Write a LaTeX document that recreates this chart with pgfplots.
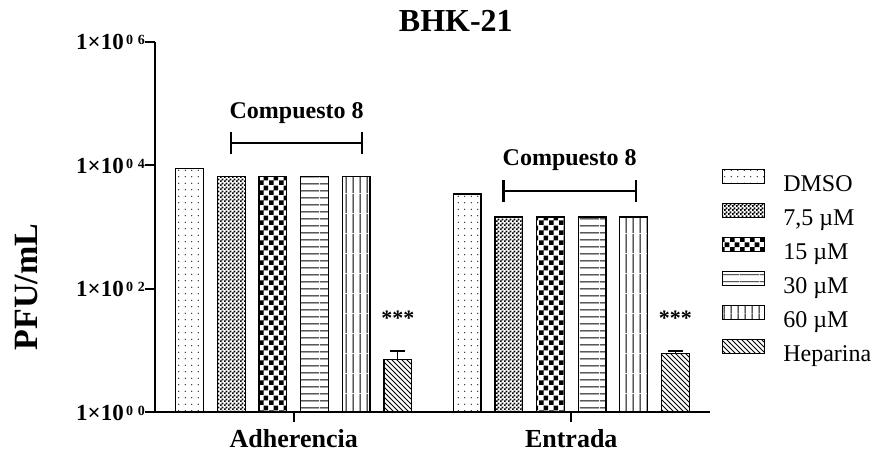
\documentclass[border=0pt]{standalone}
\usepackage{pgfplots}
\pgfplotsset{compat=1.18}
\usetikzlibrary{patterns}
\usepackage{fontspec}
\setmainfont{Liberation Serif}

% fill patterns for the six treatments
\pgfdeclarepatternformonly{dmsodots}{\pgfqpoint{-1bp}{-1bp}}{\pgfqpoint{7.5bp}{7.5bp}}{\pgfqpoint{6.5bp}{6.5bp}}%
  {\pgfpathcircle{\pgfqpoint{3.25bp}{3.25bp}}{0.7bp}\pgfusepath{fill}}
\pgfdeclarepatternformonly{finecheck}{\pgfpointorigin}{\pgfqpoint{3.6bp}{3.6bp}}{\pgfqpoint{3.6bp}{3.6bp}}%
  {\pgfpathrectangle{\pgfpointorigin}{\pgfqpoint{1.9bp}{1.9bp}}%
   \pgfpathrectangle{\pgfqpoint{1.8bp}{1.8bp}}{\pgfqpoint{1.9bp}{1.9bp}}\pgfusepath{fill}}
\pgfdeclarepatternformonly{bigcheck}{\pgfpointorigin}{\pgfqpoint{9.6bp}{9.6bp}}{\pgfqpoint{9.6bp}{9.6bp}}%
  {\pgfpathrectangle{\pgfpointorigin}{\pgfqpoint{4.8bp}{4.8bp}}%
   \pgfpathrectangle{\pgfqpoint{4.8bp}{4.8bp}}{\pgfqpoint{4.8bp}{4.8bp}}\pgfusepath{fill}}
\pgfdeclarepatternformonly{hlines}{\pgfpointorigin}{\pgfqpoint{20bp}{7bp}}{\pgfqpoint{20bp}{7bp}}%
  {\pgfsetlinewidth{1bp}\pgfpathmoveto{\pgfqpoint{0bp}{3.5bp}}\pgfpathlineto{\pgfqpoint{20bp}{3.5bp}}\pgfusepath{stroke}}
\pgfdeclarepatternformonly{vlines}{\pgfpointorigin}{\pgfqpoint{7bp}{20bp}}{\pgfqpoint{7bp}{20bp}}%
  {\pgfsetlinewidth{1bp}\pgfpathmoveto{\pgfqpoint{3.5bp}{0bp}}\pgfpathlineto{\pgfqpoint{3.5bp}{20bp}}\pgfusepath{stroke}}
\pgfdeclarepatternformonly{hepar}{\pgfqpoint{-1bp}{-1bp}}{\pgfqpoint{6bp}{6bp}}{\pgfqpoint{5bp}{5bp}}%
  {\pgfsetlinewidth{0.9bp}\pgfpathmoveto{\pgfqpoint{0bp}{5bp}}\pgfpathlineto{\pgfqpoint{5.1bp}{-0.1bp}}\pgfusepath{stroke}}

\newcommand{\ytl}[1]{1×10\raisebox{5bp}{\fontsize{14bp}{14bp}\selectfont\,0\,\,#1}}

\pgfplotsset{
  mybar/.style={ybar, bar width=0.1, bar shift=0, draw=black, line width=1.2bp,
    fill=white,
    legend image code/.code={\draw[##1] (0bp,1bp) rectangle (42bp,15bp);}},
}

\begin{document}
\begin{tikzpicture}
\useasboundingbox (-155bp,-41bp) rectangle (727bp,412bp);
\begin{axis}[
  scale only axis, width=555bp, height=370bp,
  xmin=0.5, xmax=2.5, ymode=log, ymin=1, ymax=1e6,
  axis lines=left, axis line style={-, line width=2.2bp},
  tick align=outside, major tick length=10bp,
  every tick/.style={black, line width=2.2bp},
  xtick={1,2}, xticklabels={Adherencia,Entrada},
  ytick={1,100,10000,1000000},
  yticklabels={\ytl{0},\ytl{2},\ytl{4},\ytl{6}},
  yminorticks=false, xminorticks=false,
  xticklabel style={font=\fontsize{26bp}{30bp}\selectfont\bfseries, inner sep=0pt, anchor=base, yshift=-26bp, text depth=0pt},
  yticklabel style={font=\fontsize{23bp}{25bp}\selectfont\bfseries, inner sep=0pt, anchor=base east, yshift=-8bp},
  clip=false,
  title={BHK-21},
  title style={font=\fontsize{32bp}{36bp}\selectfont\bfseries, at={(0.542,1)}, anchor=base, yshift=5bp, inner sep=0pt},
  ylabel={PFU/mL},
  every axis y label/.style={font=\fontsize{34bp}{38bp}\selectfont\bfseries, at={(axis description cs:-0.2324,0.338)}, rotate=90, anchor=center, inner sep=0pt},
  legend style={draw=none, fill=none, at={(1.016,0.664)}, anchor=north west,
    row sep=7.5bp, column sep=18bp, font=\fontsize{24bp}{28bp}\selectfont,
    nodes={inner sep=0pt, text height=18bp, text depth=4bp}},
  legend cell align=left,
]
% bars are placed at group centre (1, 2) plus a fixed offset per treatment
\addplot[mybar, postaction={pattern=dmsodots}] coordinates {(0.625,9000) (1.625,3430)};
\addlegendentry{DMSO}
\addplot[mybar, postaction={pattern=finecheck}] coordinates {(0.775,6500) (1.775,1450)};
\addlegendentry{7,5 µM}
\addplot[mybar, postaction={pattern=bigcheck}] coordinates {(0.925,6500) (1.925,1450)};
\addlegendentry{15 µM}
\addplot[mybar, postaction={pattern=hlines}] coordinates {(1.075,6500) (2.075,1450)};
\addlegendentry{30 µM}
\addplot[mybar, postaction={pattern=vlines}] coordinates {(1.225,6500) (2.225,1450)};
\addlegendentry{60 µM}
\addplot[mybar, postaction={pattern=hepar},
  error bars/.cd, y dir=plus, y explicit,
  error bar style={line width=1.3bp},
  error mark options={rotate=90, line width=2.5bp, mark size=7.5bp}]
  coordinates {(1.375,7) +- (0,2.75) (2.375,9) +- (0,0.8)};
\addlegendentry{Heparina}

% treatment brackets
\draw[line width=2.2bp] (axis cs:0.774,23000) -- (axis cs:1.247,23000);
\draw[line width=2.2bp] ([yshift=-11bp]axis cs:0.774,23000) -- ([yshift=11bp]axis cs:0.774,23000);
\draw[line width=2.2bp] ([yshift=-11bp]axis cs:1.247,23000) -- ([yshift=11bp]axis cs:1.247,23000);
\node[anchor=base, yshift=25bp, font=\fontsize{24bp}{28bp}\selectfont\bfseries] at (axis cs:1.0105,23000) {Compuesto 8};
\draw[line width=2.2bp] (axis cs:1.756,3876) -- (axis cs:2.233,3876);
\draw[line width=2.2bp] ([yshift=-11bp]axis cs:1.756,3876) -- ([yshift=11bp]axis cs:1.756,3876);
\draw[line width=2.2bp] ([yshift=-11bp]axis cs:2.233,3876) -- ([yshift=11bp]axis cs:2.233,3876);
\node[anchor=base, yshift=25bp, font=\fontsize{24bp}{28bp}\selectfont\bfseries] at (axis cs:1.9945,3876) {Compuesto 8};
% significance marks
\node[anchor=base, font=\fontsize{22bp}{24bp}\selectfont\bfseries] at (axis cs:1.375,25) {***};
\node[anchor=base, font=\fontsize{22bp}{24bp}\selectfont\bfseries] at (axis cs:2.375,25) {***};
\end{axis}
\end{tikzpicture}
\end{document}
